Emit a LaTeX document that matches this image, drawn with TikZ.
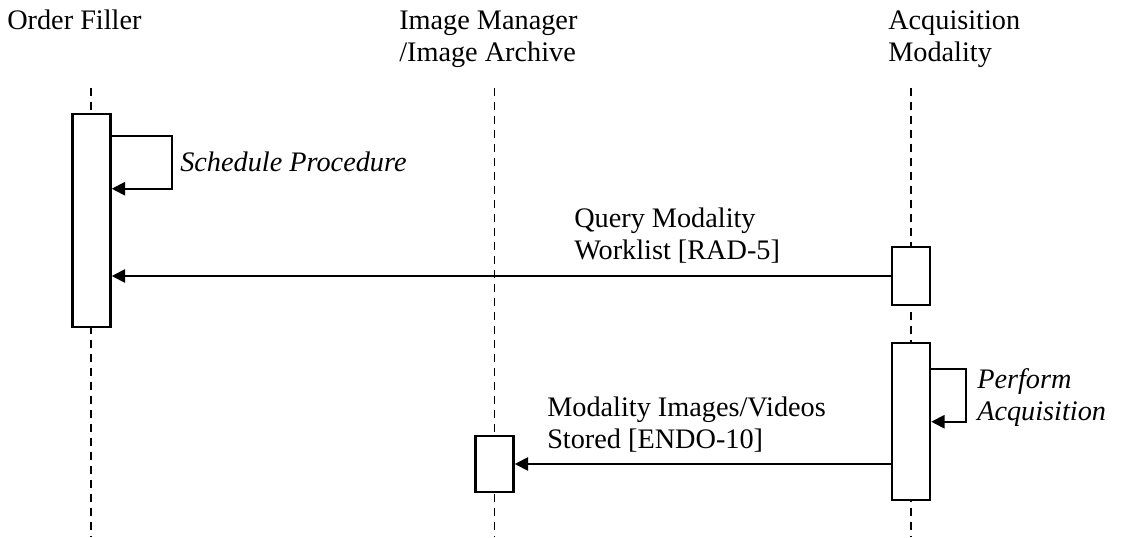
\documentclass[tikz,border=0pt]{standalone}
\usepackage{fontspec}
\setmainfont{Liberation Serif}
\usetikzlibrary{arrows.meta}
\usetikzlibrary{calc}

\tikzset{
  life/.style={line width=1.4pt, dash pattern=on 6pt off 4.5pt},
  bar/.style={draw, line width=1.9pt, fill=white, minimum width=28.5pt, inner sep=0pt},
  msg/.style={line width=1.4pt, -{Triangle[length=10pt,width=10pt]}},
  lbl/.style={anchor=base west, inner sep=0pt, align=left}
}

\begin{document}
\begin{tikzpicture}[x=0.75pt,y=0.75pt,yscale=-1,xscale=1,
  font=\fontsize{21.2}{24}\selectfont]
\useasboundingbox (0,0) rectangle (1125,537); %same size as the page
% Actors (base = last line)
\node[lbl] (of) at (7,29) {Order Filler};
\node[lbl] (im) at (399,61) {Image Manager\\/Image Archive};
\node[lbl] (am) at (888,61) {Acquisition\\Modality};
% Lifelines
\coordinate (ofT) at (91,88);
\coordinate (ofB) at (91,537);
\coordinate (imT) at (494.5,88);
\coordinate (imB) at (494.5,537);
\coordinate (amT) at (911,88);
\coordinate (amB) at (911,537);
\draw[life] (ofT) -- (ofB);
\draw[life] (imT) -- (imB);
\draw[life] (amT) -- (amB);
% Activation bars
\node[bar, minimum height=159.75pt] (ofbar) at (91.5,220.5) {};
\node[bar, minimum height=43.5pt] (amq) at (911,276) {};
\node[bar, minimum height=117.75pt] (amp) at (911,421.5) {};
\node[bar, minimum height=42pt] (imbar) at (494.5,464) {};
% Self message on Order Filler
\draw[msg] ($(ofbar.north east)+(0,23)$) -- ++(60,0) |- ($(ofbar.north east)+(0,76)$);
\node[lbl] (sched) at (180,171) {\itshape Schedule Procedure};
% Query Modality Worklist
\draw[msg] (amq.west) -- (amq.west -| ofbar.east);
\node[lbl] (query) at (574,259) {Query Modality\\Worklist [RAD-5]};
% Self message on Acquisition Modality
\draw[msg] ($(amp.north east)+(0,27)$) -- ++(35,0) |- ($(amp.north east)+(0,80)$);
\node[lbl] (perf) at (977,420) {\itshape Perform\\\itshape Acquisition};
% Images stored
\draw[msg] (amp.west |- imbar.east) -- (imbar.east);
\node[lbl] (store) at (547,448) {Modality Images/Videos\\Stored [ENDO-10]};
\end{tikzpicture}
\end{document}
